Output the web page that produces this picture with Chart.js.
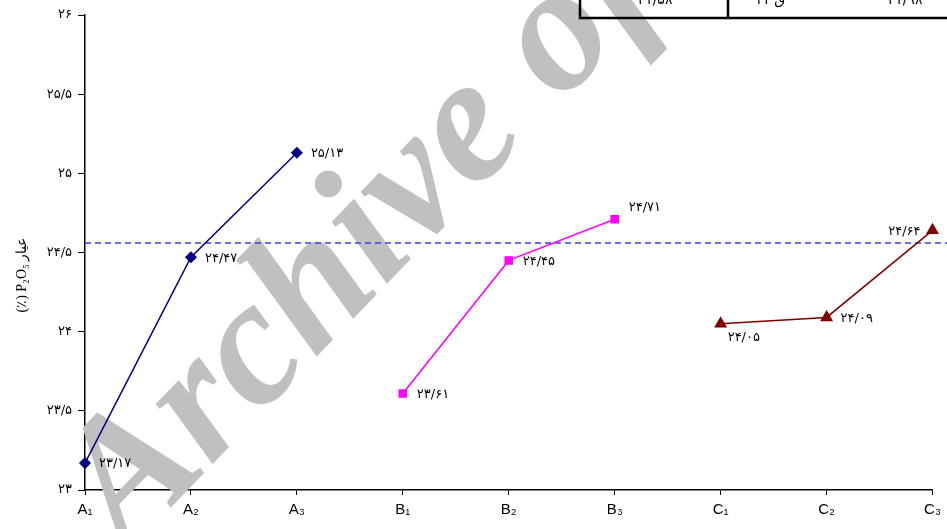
<!DOCTYPE html>
<html>
<head>
<meta charset="utf-8">
<script src="https://cdn.jsdelivr.net/npm/chart.js@4/dist/chart.umd.min.js"></script>
<style>
  html, body { margin: 0; padding: 0; background: #fff; }
  canvas { display: block; }
</style>
</head>
<body>
<canvas id="chart" width="947" height="529"></canvas>
<script>
// categories and values
const categories = ['A₁', 'A₂', 'A₃', 'B₁', 'B₂', 'B₃', 'C₁', 'C₂', 'C₃'];
const seriesA = [23.17, 24.47, 25.13, null, null, null, null, null, null];
const seriesB = [null, null, null, 23.61, 24.45, 24.71, null, null, null];
const seriesC = [null, null, null, null, null, null, 24.05, 24.09, 24.64];
const refLevel = 24.56;
const yTicks = [23, 23.5, 24, 24.5, 25, 25.5, 26];
const yTitle = '(٪) P₂O₅ عیار';
const tableTexts = ['۲۱/۵۸', 'ق ۱۱', '۲۱/۹۸'];

// where each value label sits next to its point
const labelSide = ['right', 'right', 'right', 'right', 'right', 'above', 'below', 'right', 'left'];

// latin digits -> persian digits, decimal point -> slash
function fa(v) {
  const d = '۰۱۲۳۴۵۶۷۸۹';
  return String(v).replace('.', '/').replace(/[0-9]/g, c => d[+c]);
}

const extras = {
  id: 'extras',
  beforeDatasetsDraw(chart) {
    const ctx = chart.ctx;
    const y = chart.scales.y;
    // watermark, placed around the centre of its "e"
    ctx.save();
    ctx.font = 'italic bold 180px "Liberation Serif"';
    const before = ctx.measureText('Archiv').width;
    const eW = ctx.measureText('e').width;
    ctx.translate(472, 136);
    ctx.rotate(-46 * Math.PI / 180);
    ctx.fillStyle = 'rgb(192,192,192)';
    ctx.textBaseline = 'alphabetic';
    ctx.fillText('Archive of SID', -before - eW / 2, 0.23 * 180);
    ctx.restore();

    // dashed reference line
    const py = y.getPixelForValue(refLevel);
    ctx.save();
    ctx.strokeStyle = '#3b3bff';
    ctx.lineWidth = 1.3;
    ctx.setLineDash([6, 4]);
    ctx.beginPath();
    ctx.moveTo(chart.chartArea.left, py);
    ctx.lineTo(chart.width, py);
    ctx.stroke();
    ctx.restore();
  },
  afterDatasetsDraw(chart) {
    const ctx = chart.ctx;
    const x = chart.scales.x;
    const y = chart.scales.y;
    ctx.save();
    ctx.fillStyle = '#000';
    ctx.font = '13px "DejaVu Sans"';
    ctx.textBaseline = 'middle';
    [seriesA, seriesB, seriesC].forEach(s => {
      s.forEach((v, i) => {
        if (v === null) return;
        const px = x.getPixelForValue(i);
        const py = y.getPixelForValue(v);
        const side = labelSide[i];
        if (side === 'right') {
          ctx.textAlign = 'left';
          ctx.fillText(fa(v), px + 14, py + 1);
        } else if (side === 'above') {
          ctx.textAlign = 'left';
          ctx.fillText(fa(v), px + 14, py - 12);
        } else if (side === 'below') {
          ctx.textAlign = 'left';
          ctx.fillText(fa(v), px + 7, py + 14);
        } else {
          ctx.textAlign = 'right';
          ctx.fillText(fa(v), px - 12, py + 1);
        }
      });
    });

    // y axis title
    ctx.save();
    ctx.translate(22, 275);
    ctx.rotate(-Math.PI / 2);
    ctx.textAlign = 'center';
    ctx.font = '14px "Liberation Serif"';
    ctx.fillText(yTitle, 0, 0);
    ctx.restore();

    // clipped table at the top right
    ctx.strokeStyle = '#000';
    ctx.lineWidth = 2.5;
    ctx.beginPath();
    ctx.moveTo(580, 0);
    ctx.lineTo(580, 18);
    ctx.lineTo(947, 18);
    ctx.moveTo(728, 0);
    ctx.lineTo(728, 18);
    ctx.stroke();
    ctx.font = '14px "DejaVu Sans"';
    ctx.textBaseline = 'alphabetic';
    ctx.textAlign = 'center';
    ctx.fillText(tableTexts[0], 655, 4);
    ctx.fillText(tableTexts[1], 770, 4);
    ctx.fillText(tableTexts[2], 905, 4);
    ctx.restore();
  }
};

function lineSet(data, color, shape, size) {
  return {
    data: data,
    borderColor: color,
    backgroundColor: color,
    borderWidth: 1.5,
    pointStyle: shape,
    pointRadius: size,
    pointHoverRadius: size,
    spanGaps: false,
    tension: 0
  };
}

new Chart(document.getElementById('chart'), {
  type: 'line',
  data: {
    labels: categories,
    datasets: [
      lineSet(seriesA, '#000080', 'rectRot', 5),
      lineSet(seriesB, '#ff00ff', 'rect', 5),
      lineSet(seriesC, '#800000', 'triangle', 6)
    ]
  },
  options: {
    responsive: false,
    animation: false,
    layout: { padding: { top: 15, right: 14, left: 0, bottom: 0 } },
    plugins: {
      legend: { display: false },
      tooltip: { enabled: false }
    },
    scales: {
      x: {
        offset: false,
        grid: { display: true, drawOnChartArea: false, color: '#000', tickLength: 5 },
        border: { color: '#000', width: 1.5 },
        ticks: { color: '#000', font: { family: 'Liberation Sans', size: 15 }, padding: 6, maxRotation: 0, autoSkip: false },
        afterFit(scale) { scale.height = 39; }
      },
      y: {
        min: 23,
        max: 26,
        afterBuildTicks(scale) { scale.ticks = yTicks.map(v => ({ value: v })); },
        grid: { display: true, drawOnChartArea: false, color: '#000', tickLength: 7 },
        border: { color: '#000', width: 1.5 },
        ticks: {
          color: '#000',
          font: { family: 'DejaVu Sans', size: 13 },
          padding: 6,
          callback: v => fa(v)
        },
        afterFit(scale) { scale.width = 85; }
      }
    }
  },
  plugins: [extras]
});
</script>
</body>
</html>
